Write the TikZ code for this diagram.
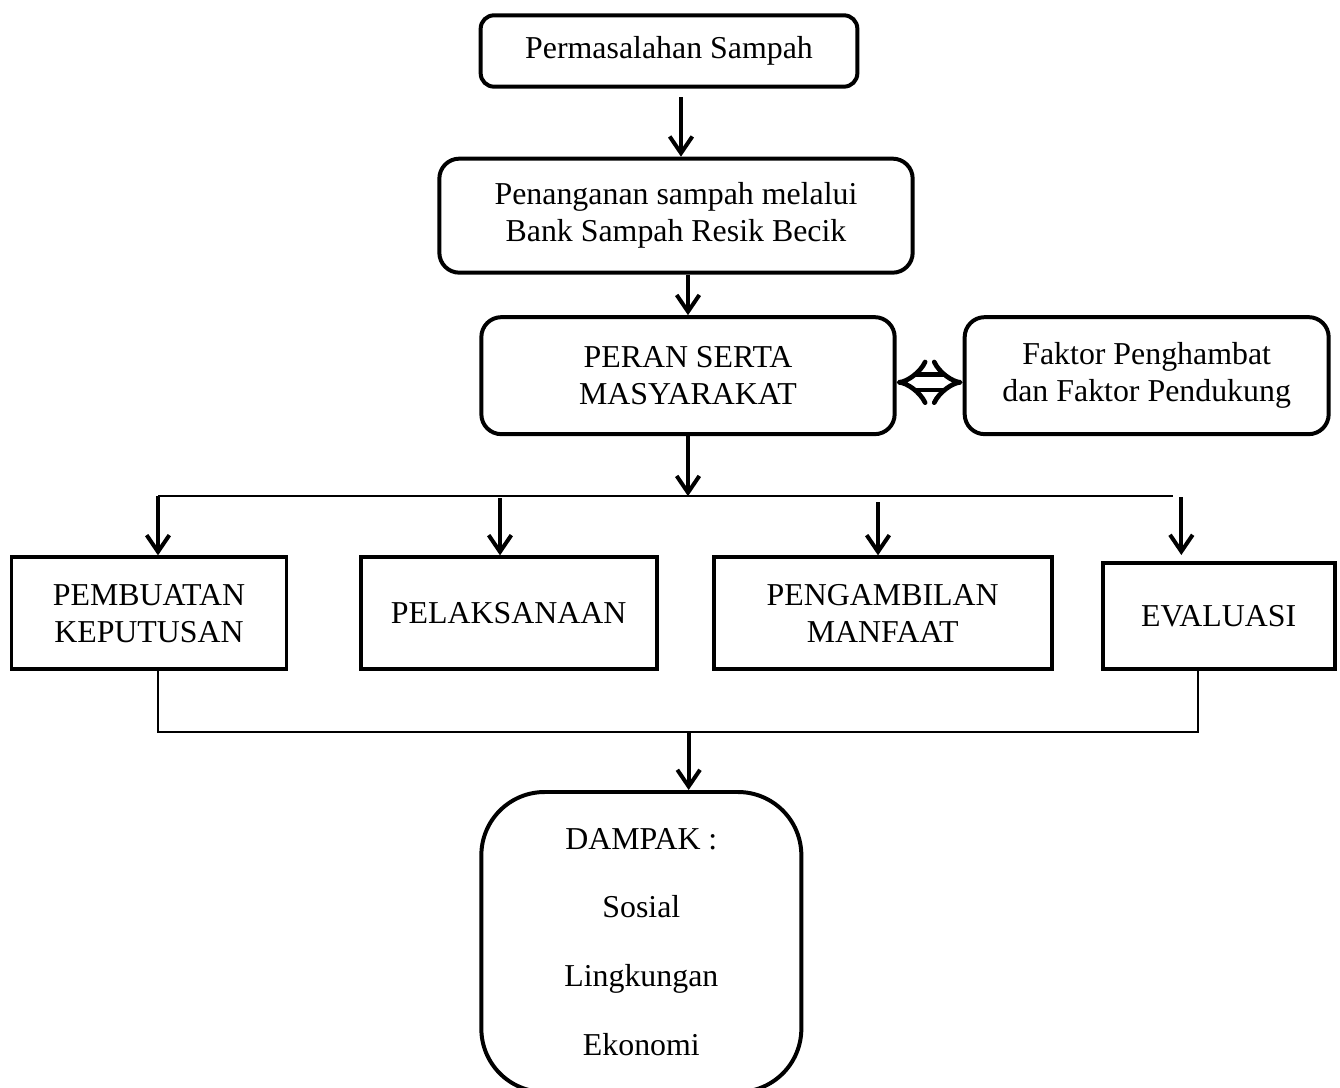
\documentclass[tikz,border=0pt]{standalone}
\usepackage{fontspec}
\setmainfont{Liberation Serif}
\usepackage{tikz}
\usetikzlibrary{shapes.geometric, arrows.meta}

\begin{document}
\begin{tikzpicture}[node distance=2.4cm, font=\fontsize{13.6}{15.7}\selectfont]
        \tikzstyle{roundbox} = [rectangle, rounded corners=0.3cm, line width=1.7pt, align=center, draw=black]
        \tikzstyle{squarebox} = [rectangle, line width=1.7pt, minimum height=1.68cm, align=center, draw=black]
        \tikzstyle{arrow} = [line width=1.7pt, -{Straight Barb[length=0.25cm, width=0.34cm, line width=1.7pt]}]
        \tikzstyle{line} = [line width=0.8pt]
        \tikzstyle{dblarrow} = [double, double distance=0.16cm, line width=2pt, {Implies[length=0.3cm, width=0.6cm]}-{Implies[length=0.3cm, width=0.6cm]}]

        \useasboundingbox (0,0) rectangle (20.1,-16.32);

        \node (masalah) [roundbox, rounded corners=0.2cm, minimum width=5.65cm, minimum height=1.07cm] at (10.035,-0.765) {Permasalahan Sampah};
        \node (penanganan) [roundbox, minimum width=7.1cm, minimum height=1.71cm, below of=masalah, xshift=0.105cm, yshift=-0.07cm] {Penanganan sampah melalui\\Bank Sampah Resik Becik};
        \node (peran) [roundbox, minimum width=6.2cm, minimum height=1.755cm, below of=penanganan, xshift=0.18cm] {PERAN SERTA\\MASYARAKAT};
        \node (faktor) [roundbox, minimum width=5.46cm, minimum height=1.755cm, right of=peran, xshift=4.48cm] {Faktor Penghambat\\dan Faktor Pendukung};
        \node (pelaksanaan) [squarebox, minimum width=4.44cm, below of=peran, xshift=-2.69cm, yshift=-1.165cm] {PELAKSANAAN};
        \node (pembuatan) [squarebox, minimum width=4.125cm, left of=pelaksanaan, xshift=-2.995cm] {PEMBUATAN\\KEPUTUSAN};
        \node (pengambilan) [squarebox, minimum width=5.07cm, right of=pelaksanaan, xshift=3.21cm] {PENGAMBILAN\\MANFAAT};
        \node (evaluasi) [squarebox, minimum width=3.48cm, minimum height=1.59cm, right of=pengambilan, xshift=2.64cm, yshift=-0.04cm] {EVALUASI};
        \node (dampak) [roundbox, rounded corners=0.95cm, minimum width=4.8cm, minimum height=4.5cm, below of=pelaksanaan, xshift=1.99cm, yshift=-2.53cm] {DAMPAK :\\[13.7pt]Sosial\\[13.7pt]Lingkungan\\[13.7pt]Ekonomi};

        \coordinate (bus) at ([yshift=-0.9cm]peran.south);
        \coordinate (merge) at ([xshift=0.71cm, yshift=-0.91cm]dampak.north |- pelaksanaan.south);

        \draw [arrow] ([xshift=0.18cm, yshift=-0.13cm]masalah.south) -- ([xshift=0.18cm]masalah.south |- penanganan.north);
        \draw [arrow] (peran.north |- penanganan.south) -- (peran.north);
        \draw [dblarrow] ([yshift=-0.1cm]peran.east) -- ([yshift=-0.1cm]faktor.west);
        \draw [arrow] (peran.south) -- (bus);
        \draw [line] ([xshift=0.135cm]pembuatan.north |- bus) -- ([xshift=-0.69cm]evaluasi.north |- bus);
        \draw [arrow] ([xshift=0.135cm]pembuatan.north |- bus) -- ([xshift=0.135cm]pembuatan.north);
        \draw [arrow] ([xshift=-0.13cm, yshift=-0.03cm]pelaksanaan.north |- bus) -- ([xshift=-0.13cm]pelaksanaan.north);
        \draw [arrow] ([xshift=-0.07cm, yshift=-0.09cm]pengambilan.north |- bus) -- ([xshift=-0.07cm]pengambilan.north);
        \draw [arrow] ([xshift=-0.56cm, yshift=-0.02cm]evaluasi.north |- bus) -- ([xshift=-0.56cm, yshift=0.09cm]evaluasi.north);
        \draw [line] ([xshift=0.135cm]pembuatan.south) |- ([xshift=-0.31cm]evaluasi.south |- merge) -- ([xshift=-0.31cm]evaluasi.south);
        \draw [arrow] (merge) -- (merge |- dampak.north);
    \end{tikzpicture}
\end{document}
